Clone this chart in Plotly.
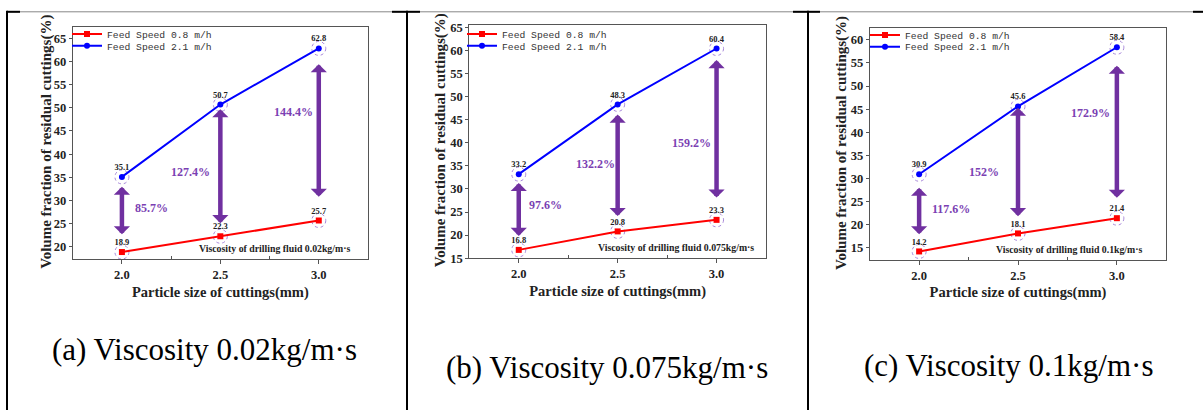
import plotly.graph_objects as go

# ---------------- data ----------------
particle_size = [2.0, 2.5, 3.0]
tick_vals_x = [2.0, 2.5, 3.0]
tick_text_x = ["2.0", "2.5", "3.0"]

low_a = [18.9, 22.3, 25.7]
high_a = [35.1, 50.7, 62.8]
pct_a = ["85.7%", "127.4%", "144.4%"]

low_b = [16.8, 20.8, 23.3]
high_b = [33.2, 48.3, 60.4]
pct_b = ["97.6%", "132.2%", "159.2%"]

low_c = [14.2, 18.1, 21.4]
high_c = [30.9, 45.6, 58.4]
pct_c = ["117.6%", "152%", "172.9%"]

series_names = ["Feed Speed 0.8 m/h", "Feed Speed 2.1 m/h"]
y_title = "Volume fraction of residual cuttings(%)"
x_title = "Particle size of cuttings(mm)"
viscosity_notes = ["Viscosity of drilling fluid 0.02kg/m·s",
                   "Viscosity of drilling fluid 0.075kg/m·s",
                   "Viscosity of drilling fluid 0.1kg/m·s"]
captions = ["(a) Viscosity 0.02kg/m·s", "(b) Viscosity 0.075kg/m·s", "(c) Viscosity 0.1kg/m·s"]

# arrow extents (bottom, top) and percent-label positions
arrow_bottom_a = [22.4, 24.8, 30.5]
arrow_top_a = [33.0, 49.7, 59.4]
pct_pos_a = [(2.15, 28.3), (2.35, 36.2), (2.87, 49.1)]

arrow_bottom_b = [19.5, 23.8, 27.8]
arrow_top_b = [31.3, 46.1, 57.9]
pct_pos_b = [(2.135, 26.5), (2.387, 35.3), (2.875, 40.0)]

arrow_bottom_c = [17.6, 21.5, 25.5]
arrow_top_c = [28.0, 45.3, 54.4]
pct_pos_c = [(2.162, 23.3), (2.327, 31.3), (2.865, 44.1)]

y_ranges = [[17.3, 67.4], [15.0, 65.4], [12.4, 62.5]]
y_ticks = [list(range(20, 66, 5)), list(range(15, 66, 5)), list(range(15, 61, 5))]
note_pos = [(3.17, 19.6), (3.2, 17.4), (3.142, 14.65)]

# ---------------- layout geometry ----------------
W, H = 1203, 417
x_dom_px = [(72.7, 368.0), (469.3, 766.0), (869.7, 1166.3)]
y_dom_px = [(22.7, 262.0), (21.0, 260.7), (24.0, 262.3)]
legend_px = [(67, 15), (462, 15), (865, 16)]
ytitle_px = [46.5, 440.5, 841.0]
caption_px = [(204, 355), (607, 373), (1008, 371)]

SERIF = "Liberation Serif"
MONO = "Liberation Mono"
PURPLE = "#7030A0"
PURPLE_TXT = "#7B3FB3"
CIRCLE = "#A888DA"
FRAME = "#555555"

panels = [
    (low_a, high_a, pct_a, arrow_bottom_a, arrow_top_a, pct_pos_a),
    (low_b, high_b, pct_b, arrow_bottom_b, arrow_top_b, pct_pos_b),
    (low_c, high_c, pct_c, arrow_bottom_c, arrow_top_c, pct_pos_c),
]

fig = go.Figure()
shapes = []
annotations = []
layout = {}

leg_count = 0
for i, (low, high, pct, ab, at, pp) in enumerate(panels):
    sfx = "" if i == 0 else str(i + 1)
    xa, ya = "x" + sfx, "y" + sfx
    lx, ly = legend_px[i]
    styles = [
        ("#FF0000", "square", low),
        ("#0000FF", "circle", high),
    ]
    for k, (col, sym, vals) in enumerate(styles):
        leg_count += 1
        leg = "legend" if leg_count == 1 else f"legend{leg_count}"
        fig.add_trace(go.Scatter(
            x=particle_size, y=vals, mode="lines+markers+text", name=series_names[k],
            line=dict(color=col, width=2),
            marker=dict(symbol=sym, size=6, color=col),
            text=[f"{v:.1f}" for v in vals], textposition="top center",
            textfont=dict(family=SERIF, size=8.5, color="#222222", weight="bold"),
            xaxis=xa, yaxis=ya, legend=leg, showlegend=True, cliponaxis=False))
        layout[leg] = dict(x=lx / W, y=1 - (ly + 12 * k) / H, xanchor="left", yanchor="top",
                           bgcolor="rgba(0,0,0,0)", borderwidth=0, tracegroupgap=0,
                           itemwidth=30, font=dict(family=MONO, size=9.7, color="#333333"))

    x0, x1 = x_dom_px[i]
    yt, yb = y_dom_px[i]
    axis_font = dict(family=SERIF, size=12.5, color="#222222", weight="bold")
    layout["xaxis" + sfx] = dict(
        domain=[x0 / W, x1 / W], anchor=ya, range=[1.75, 3.25],
        tickvals=tick_vals_x, ticktext=tick_text_x, tickfont=axis_font,
        ticks="outside", ticklen=4, tickcolor=FRAME,
        minor=dict(tickvals=[2.25, 2.75], ticks="inside", ticklen=3, tickcolor=FRAME),
        showline=True, linecolor=FRAME, linewidth=1, mirror=True,
        showgrid=False, zeroline=False,
        title=dict(text=x_title, standoff=5,
                   font=dict(family=SERIF, size=14.5, color="#222222", weight="bold")))
    layout["yaxis" + sfx] = dict(
        domain=[1 - yb / H, 1 - yt / H], anchor=xa, range=y_ranges[i],
        tickvals=y_ticks[i], tickfont=axis_font,
        ticks="outside", ticklen=3, tickcolor=FRAME,
        showline=True, linecolor=FRAME, linewidth=1, mirror=True,
        showgrid=False, zeroline=False)

    # y-axis title placed as rotated text right against the tick labels
    annotations.append(dict(
        x=ytitle_px[i] / W, y=1 - ((yt + yb) / 2 - 1) / H, xref="paper", yref="paper",
        text=y_title, textangle=-90, showarrow=False,
        xanchor="center", yanchor="middle",
        font=dict(family=SERIF, size=15, color="#222222", weight="bold")))

    # dotted circles around the data points
    for vals in (low, high):
        for xv, yv in zip(particle_size, vals):
            shapes.append(dict(type="circle", xref=xa, yref=ya,
                               xsizemode="pixel", ysizemode="pixel",
                               xanchor=xv, yanchor=yv, x0=-7, x1=7, y0=-7, y1=7,
                               line=dict(color=CIRCLE, width=1, dash="dot"),
                               layer="below"))

    # double-headed arrows and percentage labels
    for xv, b, t, label, (px_, py_) in zip(particle_size, ab, at, pct, pp):
        annotations.append(dict(
            x=xv, y=t, ax=xv, ay=b, xref=xa, yref=ya, axref=xa, ayref=ya,
            text="", showarrow=True, arrowhead=1, startarrowhead=1,
            arrowside="end+start", arrowwidth=4.5, arrowsize=0.6,
            startarrowsize=0.6, arrowcolor=PURPLE, standoff=0, startstandoff=0))
        annotations.append(dict(
            x=px_, y=py_, xref=xa, yref=ya, text=label, showarrow=False,
            font=dict(family=SERIF, size=12, color=PURPLE_TXT, weight="bold")))

    nx, ny = note_pos[i]
    annotations.append(dict(
        x=nx, y=ny, xref=xa, yref=ya, text=viscosity_notes[i], showarrow=False,
        xanchor="right", font=dict(family=SERIF, size=9.8, color="#222222", weight="bold")))

    cx, cy = caption_px[i]
    annotations.append(dict(
        x=cx / W, y=1 - cy / H, xref="paper", yref="paper", text=captions[i],
        xanchor="center", yanchor="middle",
        showarrow=False, font=dict(family=SERIF, size=31, color="#000000")))

# table borders
def hline(xa_, xb_, y_, color, width):
    return dict(type="line", xref="paper", yref="paper",
                x0=xa_ / W, x1=xb_ / W, y0=1 - y_ / H, y1=1 - y_ / H,
                line=dict(color=color, width=width))

def vline(x_, ya_, yb_, color, width):
    return dict(type="line", xref="paper", yref="paper",
                x0=x_ / W, x1=x_ / W, y0=1 - ya_ / H, y1=1 - yb_ / H,
                line=dict(color=color, width=width))

shapes.append(hline(7, 1203, 7, "#888888", 1))
for a_, b_ in [(7, 20), (392, 420), (793, 820), (1193, 1203)]:
    shapes.append(hline(a_, b_, 7, "#000000", 2))
for xv in [7, 407, 808]:
    shapes.append(vline(xv, 6, 417, "#000000", 2))

fig.update_layout(
    width=W, height=H, margin=dict(l=0, r=0, t=0, b=0),
    paper_bgcolor="white", plot_bgcolor="white", showlegend=True,
    shapes=shapes, annotations=annotations, **layout)

fig.write_html("out.html", config={"displayModeBar": False},
               post_script="document.body.style.margin='0px';document.body.style.overflow='hidden';")
